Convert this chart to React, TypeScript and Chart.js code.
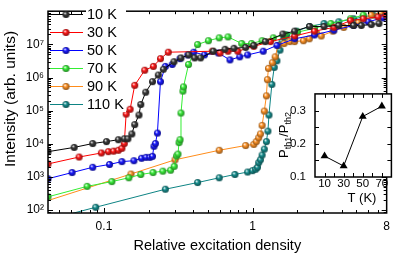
import React, { useEffect, useRef } from 'react';
import { Chart, registerables } from 'chart.js';

Chart.register(...registerables);

const FONT = '"Liberation Sans", Arial, Helvetica, sans-serif';

// ---------- main chart data ----------
const seriesLabels = ['10 K', '30 K', '50 K', '70 K', '90 K', '110 K'];
const lineColors = ['#000000', '#ff0000', '#0000ff', '#33ee33', '#ff8c1a', '#0e8484'];
const ballColors = ['#383838', '#ff1a1a', '#1a1aff', '#3cf03c', '#ff9428', '#178f8f'];

const x10K = [0.042, 0.063, 0.084, 0.104, 0.125, 0.137, 0.145, 0.154, 0.161, 0.172, 0.177, 0.191, 0.212, 0.232, 0.251, 0.296, 0.33, 0.372, 0.408, 0.447, 0.545, 0.653, 0.75, 0.899, 1.02, 1.22, 1.6, 1.92, 2.42, 3.03, 3.81, 4.79, 5.4, 6.3, 7.1];
const y10K = [5.8e3, 7.8e3, 1.02e4, 1.17e4, 1.33e4, 1.42e4, 1.42e4, 1.98e4, 3.8e4, 7.4e4, 1.54e5, 3.6e5, 7.5e5, 1.19e6, 1.77e6, 3.0e6, 3.9e6, 4.8e6, 3.9e6, 3.9e6, 6.2e6, 7.1e6, 7.6e6, 8.1e6, 9.3e6, 1.21e7, 2.05e7, 2.5e7, 3.47e7, 3.47e7, 3.71e7, 3.71e7, 3.71e7, 3.96e7, 4.24e7];

const x30K = [0.042, 0.068, 0.096, 0.107, 0.116, 0.125, 0.132, 0.137, 0.141, 0.15, 0.161, 0.188, 0.215, 0.24, 0.271, 0.536, 0.605, 0.684, 0.796, 1.02, 1.32, 1.92, 2.61, 3.53, 4.57, 5.57, 7.0, 7.9];
const y30K = [2.47e3, 4.0e3, 5.3e3, 5.8e3, 6.0e3, 6.4e3, 7.3e3, 1.02e4, 7.9e4, 1.1e5, 5.8e5, 1.66e6, 2.16e6, 3.7e6, 5.8e6, 6.2e6, 5.5e6, 6.2e6, 6.2e6, 8.7e6, 1.21e7, 1.79e7, 2.5e7, 3.25e7, 5.2e7, 5.9e7, 6.7e7, 7.7e7];

const x50K = [0.042, 0.061, 0.084, 0.109, 0.132, 0.159, 0.179, 0.192, 0.204, 0.212, 0.217, 0.222, 0.229, 0.24, 0.259, 0.288, 0.325, 0.367, 0.402, 0.475, 0.588, 0.705, 0.82, 0.927, 1.18, 1.46, 1.92, 2.61, 3.53, 4.79, 6.01, 7.55];
const y50K = [885, 1.36e3, 1.96e3, 2.39e3, 2.91e3, 3.1e3, 3.66e3, 3.92e3, 3.92e3, 4.2e3, 8.4e3, 1.02e4, 2.11e4, 7.5e5, 2.16e6, 2.47e6, 3.7e6, 4.8e6, 5.8e6, 4.8e6, 5.5e6, 3.4e6, 4.2e6, 4.8e6, 6.2e6, 9.3e6, 1.47e7, 1.92e7, 2.67e7, 3.71e7, 4.8e7, 6.3e7];

const x70K = [0.042, 0.077, 0.113, 0.147, 0.177, 0.214, 0.249, 0.281, 0.297, 0.308, 0.315, 0.32, 0.325, 0.33, 0.34, 0.343, 0.371, 0.427, 0.505, 0.597, 0.684, 0.846, 0.985, 1.16, 1.38, 1.65, 2.01, 2.61, 3.37, 4.57, 5.57];
const y70K = [252, 522, 726, 946, 1.19e3, 1.36e3, 1.5e3, 1.6e3, 2.09e3, 4.3e3, 4.9e3, 1.09e4, 1.33e4, 8.5e4, 3.9e5, 5.2e5, 2.47e6, 9.9e6, 1.29e7, 1.57e7, 1.68e7, 1.06e7, 1.06e7, 1.29e7, 1.57e7, 1.92e7, 2.34e7, 3.04e7, 4.24e7, 5.9e7, 7.7e7];

const x90K = [0.035, 0.152, 0.301, 0.597, 0.899, 1.02, 1.06, 1.1, 1.13, 1.16, 1.2, 1.24, 1.26, 1.28, 1.36, 1.42, 1.49, 1.63, 1.78, 1.92, 2.2, 2.41, 2.69, 2.9, 3.48, 4.11, 4.64, 5.16, 6.3, 7.33];
const y90K = [150, 1.23e3, 3.3e3, 6.4e3, 8.9e3, 9.6e3, 1.17e4, 1.52e4, 1.98e4, 3.6e4, 9.7e4, 2.8e5, 8.6e5, 1.89e6, 2.8e6, 4.2e6, 9.3e6, 1.06e7, 1.21e7, 1.21e7, 1.29e7, 1.47e7, 2.19e7, 1.79e7, 2.5e7, 3.25e7, 3.96e7, 4.5e7, 7.7e7, 8.8e7];

const x110K = [0.05, 0.088, 0.259, 0.427, 0.597, 0.761, 0.927, 1.0, 1.05, 1.08, 1.1, 1.13, 1.16, 1.2, 1.24, 1.27, 1.29, 1.35, 1.4, 1.46, 1.53, 1.58, 1.63, 1.7, 1.98, 2.42, 3.03, 3.81, 4.79, 5.57, 6.49, 7.33];
const y110K = [63, 122, 428, 680, 946, 1.19e3, 1.41e3, 1.55e3, 1.71e3, 1.96e3, 2.7e3, 3.3e3, 4.6e3, 6.9e3, 1.17e4, 2.41e4, 7.4e4, 6.2e5, 2.02e6, 3.2e6, 6.7e6, 1.21e7, 1.68e7, 1.92e7, 2.5e7, 3.47e7, 4.24e7, 4.8e7, 5.9e7, 6.7e7, 7.7e7, 8.8e7];

const seriesX = [x10K, x30K, x50K, x70K, x90K, x110K];
const seriesY = [y10K, y30K, y50K, y70K, y90K, y110K];

// axis ticks of main chart
const xMin = 0.042;
const xMax = 8;
const yMin = 82;
const yMax = 1e8;
const xTickValues = [0.05, 0.06, 0.07, 0.08, 0.09, 0.1, 0.2, 0.3, 0.4, 0.5, 0.6, 0.7, 0.8, 0.9, 1, 2, 3, 4, 5, 6, 7, 8];
const xTickLabels = [0.1, 1, 8];
const yDecades = [2, 3, 4, 5, 6, 7];
const xTitle = 'Relative excitation density';
const yTitle = 'Intensity (arb. units)';

// ---------- inset data ----------
const insetT = [10, 30, 50, 70];
const insetRatio = [0.163, 0.133, 0.282, 0.313];
const insetXTicks = [0, 10, 20, 30, 40, 50, 60, 70, 80];
const insetXLabels = [10, 30, 50, 70];
const insetYTicks = [0.1, 0.15, 0.2, 0.25, 0.3, 0.35];
const insetYLabels = [0.1, 0.2, 0.3];

const SUP: Record<string, string> = { '0': '⁰', '1': '¹', '2': '²', '3': '³', '4': '⁴', '5': '⁵', '6': '⁶', '7': '⁷', '8': '⁸', '9': '⁹' };

function yTickValues(): number[] {
  const out: number[] = [90];
  for (let e = 2; e <= 7; e++) {
    for (let m = 1; m <= 9; m++) out.push(m * Math.pow(10, e));
  }
  out.push(1e8);
  return out;
}

function darken(hex: string, f: number) {
  const n = parseInt(hex.slice(1), 16);
  const r = Math.round(((n >> 16) & 255) * f);
  const g = Math.round(((n >> 8) & 255) * f);
  const b = Math.round((n & 255) * f);
  return `rgb(${r},${g},${b})`;
}

function makeBall(color: string, r: number) {
  const s = 9;
  const c = document.createElement('canvas');
  c.width = s;
  c.height = s;
  const g = c.getContext('2d')!;
  const cx = s / 2;
  const cy = s / 2;
  const grad = g.createRadialGradient(cx - r * 0.35, cy - r * 0.4, r * 0.05, cx, cy, r);
  grad.addColorStop(0, '#ffffff');
  grad.addColorStop(0.4, color);
  grad.addColorStop(1, darken(color, 0.55));
  g.fillStyle = grad;
  g.beginPath();
  g.arc(cx, cy, r, 0, Math.PI * 2);
  g.fill();
  return c;
}

function isDecade(v: number) {
  const l = Math.log10(v);
  return Math.abs(l - Math.round(l)) < 1e-6;
}

const mainFrame = {
  id: 'mainFrame',
  afterDatasetsDraw(chart: any) {
    const { ctx, chartArea } = chart;
    const { left, right, top, bottom } = chartArea;
    const xs = chart.scales.x;
    const ys = chart.scales.y;
    ctx.save();
    ctx.strokeStyle = '#000';
    ctx.lineWidth = 1;
    ctx.beginPath();
    for (const t of xs.ticks) {
      const p = Math.round(xs.getPixelForValue(t.value)) + 0.5;
      if (p < left || p > right) continue;
      const major = xTickLabels.includes(t.value);
      const len = major ? 5 : 3;
      ctx.moveTo(p, bottom);
      ctx.lineTo(p, bottom - len);
      ctx.moveTo(p, top);
      ctx.lineTo(p, top + len);
    }
    for (const t of ys.ticks) {
      const p = Math.round(ys.getPixelForValue(t.value)) + 0.5;
      if (p < top || p > bottom) continue;
      const len = isDecade(t.value) ? 5 : 3;
      ctx.moveTo(left, p);
      ctx.lineTo(left + len, p);
      ctx.moveTo(right, p);
      ctx.lineTo(right - len, p);
    }
    ctx.stroke();
    ctx.lineWidth = 1.5;
    ctx.strokeRect(left, top, right - left, bottom - top);
    ctx.restore();
  },
  afterDraw(chart: any) {
    const { ctx } = chart;
    ctx.save();
    ctx.fillStyle = '#fff';
    ctx.fillRect(86, 6, 40, 106);
    chart.data.datasets.forEach((ds: any, i: number) => {
      const y = 14.5 + i * 18;
      ctx.strokeStyle = ds.borderColor;
      ctx.lineWidth = 1;
      ctx.beginPath();
      ctx.moveTo(50, y);
      ctx.lineTo(83, y);
      ctx.stroke();
      ctx.drawImage(ds.pointStyle, 66 - 4.5, y - 4.5);
      ctx.fillStyle = '#000';
      ctx.font = `14.5px ${FONT}`;
      ctx.textBaseline = 'middle';
      ctx.textAlign = 'left';
      ctx.fillText(ds.label, 87, y + 0.5);
    });
    // y-axis title
    ctx.translate(11, 99);
    ctx.rotate(-Math.PI / 2);
    ctx.font = `15.5px ${FONT}`;
    ctx.textAlign = 'center';
    ctx.textBaseline = 'middle';
    ctx.fillText(yTitle, 0, 0);
    ctx.restore();
  },
};

const insetFrame = {
  id: 'insetFrame',
  beforeDraw(chart: any) {
    const { ctx, chartArea } = chart;
    ctx.save();
    ctx.fillStyle = '#fff';
    ctx.fillRect(chartArea.left, chartArea.top, chartArea.right - chartArea.left, chartArea.bottom - chartArea.top);
    ctx.restore();
  },
  afterDraw(chart: any) {
    const { ctx, chartArea } = chart;
    const { left, right, top, bottom } = chartArea;
    const xs = chart.scales.x;
    const ys = chart.scales.y;
    ctx.save();
    ctx.strokeStyle = '#000';
    ctx.lineWidth = 1;
    ctx.beginPath();
    for (const t of xs.ticks) {
      const p = Math.round(xs.getPixelForValue(t.value)) + 0.5;
      if (p <= left + 1 || p >= right - 1) continue;
      ctx.moveTo(p, bottom);
      ctx.lineTo(p, bottom - 4);
      ctx.moveTo(p, top);
      ctx.lineTo(p, top + 4);
    }
    for (const t of ys.ticks) {
      const p = Math.round(ys.getPixelForValue(t.value)) + 0.5;
      if (p <= top + 1 || p >= bottom - 1) continue;
      ctx.moveTo(left, p);
      ctx.lineTo(left + 4, p);
      ctx.moveTo(right, p);
      ctx.lineTo(right - 4, p);
    }
    ctx.stroke();
    ctx.lineWidth = 1.5;
    ctx.strokeRect(left, top, right - left, bottom - top);

    // x title
    ctx.fillStyle = '#000';
    ctx.font = `13px ${FONT}`;
    ctx.textAlign = 'center';
    ctx.textBaseline = 'middle';
    ctx.fillText('T (K)', 86, 120);

    // y title: P_th1 / P_th2 (rotated)
    const segs: [string, number, number][] = [
      ['P', 13, 0],
      ['th1', 9, 3],
      ['/P', 13, 0],
      ['th2', 9, 3],
    ];
    let total = 0;
    for (const [s, f] of segs) {
      ctx.font = `${f}px ${FONT}`;
      total += ctx.measureText(s).width;
    }
    ctx.translate(12, 57);
    ctx.rotate(-Math.PI / 2);
    ctx.textAlign = 'left';
    ctx.textBaseline = 'alphabetic';
    let pos = -total / 2;
    for (const [s, f, dy] of segs) {
      ctx.font = `${f}px ${FONT}`;
      ctx.fillText(s, pos, dy);
      pos += ctx.measureText(s).width;
    }
    ctx.restore();
  },
};

export default function App() {
  const mainRef = useRef<HTMLCanvasElement | null>(null);
  const insetRef = useRef<HTMLCanvasElement | null>(null);

  useEffect(() => {
    if (!mainRef.current || !insetRef.current) return;
    const balls = ballColors.map((c) => makeBall(c, 3.5));
    const yTicks = yTickValues();

    const main = new Chart(mainRef.current, {
      type: 'scatter',
      data: {
        datasets: seriesLabels.map((label, i) => ({
          label,
          data: seriesX[i].map((x, j) => ({ x, y: seriesY[i][j] })),
          showLine: true,
          borderColor: lineColors[i],
          backgroundColor: lineColors[i],
          borderWidth: 1,
          pointStyle: balls[i] as any,
          pointRadius: 3.5,
          tension: 0,
          clip: 0,
        })),
      },
      options: {
        responsive: false,
        animation: false,
        events: [],
        layout: { padding: { top: 1, right: 3, left: 0, bottom: 0 } },
        plugins: { legend: { display: false }, tooltip: { enabled: false }, title: { display: false } },
        scales: {
          x: {
            type: 'logarithmic',
            min: xMin,
            max: xMax,
            bounds: 'data',
            afterBuildTicks: (s: any) => {
              s.ticks = xTickValues.map((v) => ({ value: v }));
            },
            afterFit: (s: any) => {
              s.height = 43;
            },
            grid: { display: false, drawTicks: false },
            border: { display: false },
            ticks: {
              autoSkip: false,
              maxRotation: 0,
              padding: 6,
              color: '#000',
              font: { family: FONT, size: 12 },
              callback: (v: any) => (xTickLabels.includes(Number(v)) ? String(v) : ''),
            },
            title: {
              display: true,
              text: xTitle,
              color: '#000',
              font: { family: FONT, size: 14.5 },
              padding: { top: 0, bottom: 1 },
            },
          },
          y: {
            type: 'logarithmic',
            min: yMin,
            max: yMax,
            bounds: 'data',
            afterBuildTicks: (s: any) => {
              s.ticks = yTicks.map((v) => ({ value: v }));
            },
            afterFit: (s: any) => {
              s.width = 48;
            },
            grid: { display: false, drawTicks: false },
            border: { display: false },
            ticks: {
              autoSkip: false,
              padding: 4,
              color: '#000',
              font: { family: FONT, size: 12 },
              callback: (v: any) => {
                const n = Number(v);
                const e = Math.round(Math.log10(n));
                if (isDecade(n) && yDecades.includes(e)) return '10' + String(e).split('').map((d) => SUP[d]).join('');
                return '';
              },
            },
            title: { display: false },
          },
        },
      },
      plugins: [mainFrame],
    } as any);

    const inset = new Chart(insetRef.current, {
      type: 'scatter',
      data: {
        datasets: [
          {
            label: 'Pth1/Pth2',
            data: insetT.map((t, i) => ({ x: t, y: insetRatio[i] })),
            showLine: true,
            borderColor: '#000',
            backgroundColor: '#000',
            borderWidth: 1,
            pointStyle: 'triangle',
            pointRadius: 4.6,
            pointBorderWidth: 0,
            clip: false,
          },
        ],
      },
      options: {
        responsive: false,
        animation: false,
        events: [],
        layout: { padding: { top: 7, right: 3, left: 0, bottom: 0 } },
        plugins: { legend: { display: false }, tooltip: { enabled: false } },
        scales: {
          x: {
            type: 'linear',
            min: 0,
            max: 80,
            afterBuildTicks: (s: any) => {
              s.ticks = insetXTicks.map((v) => ({ value: v }));
            },
            afterFit: (s: any) => {
              s.height = 33;
            },
            grid: { display: false, drawTicks: false },
            border: { display: false },
            ticks: {
              autoSkip: false,
              maxRotation: 0,
              padding: 0,
              color: '#000',
              font: { family: FONT, size: 11.5 },
              callback: (v: any) => (insetXLabels.includes(Number(v)) ? String(v) : ''),
            },
          },
          y: {
            type: 'linear',
            min: 0.1,
            max: 0.35,
            afterBuildTicks: (s: any) => {
              s.ticks = insetYTicks.map((v) => ({ value: v }));
            },
            afterFit: (s: any) => {
              s.width = 39;
            },
            grid: { display: false, drawTicks: false },
            border: { display: false },
            ticks: {
              autoSkip: false,
              padding: 9,
              color: '#000',
              font: { family: FONT, size: 11.5 },
              callback: (v: any) => {
                const n = Number(v);
                return insetYLabels.some((l) => Math.abs(l - n) < 1e-9) ? n.toFixed(1) : '';
              },
            },
          },
        },
      },
      plugins: [insetFrame],
    } as any);

    return () => {
      main.destroy();
      inset.destroy();
    };
  }, []);

  return (
    <div style={{ position: 'fixed', left: 0, top: 0, width: 396, height: 256, background: '#fff' }}>
      <canvas ref={mainRef} width={396} height={256} style={{ position: 'absolute', left: 0, top: 0, width: 396, height: 256 }} />
      <canvas ref={insetRef} width={120} height={132} style={{ position: 'absolute', left: 276, top: 78, width: 120, height: 132 }} />
    </div>
  );
}
